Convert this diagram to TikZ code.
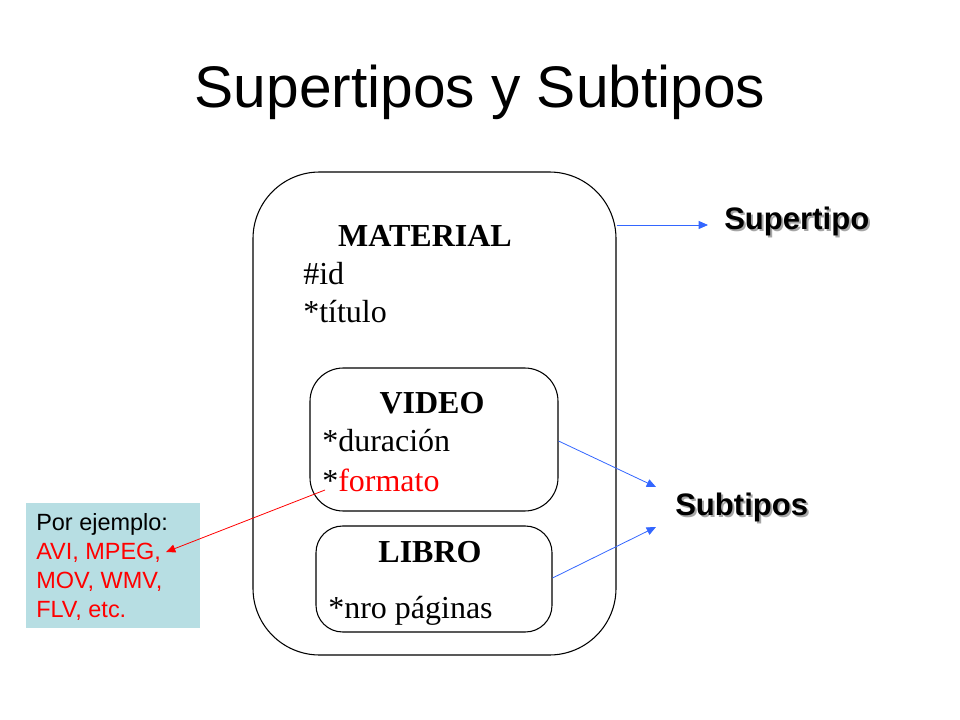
\documentclass[tikz,border=0pt]{standalone}
\usepackage{fontspec}
\setmainfont{Liberation Serif}
\newfontfamily\arialfont{Liberation Sans}
\usetikzlibrary{positioning, arrows.meta}
\definecolor{linkblue}{RGB}{51,102,255}
\definecolor{notecyan}{RGB}{183,222,227}
\tikzset{
    entitybox/.style = {draw, thick, rounded corners=#1},
    entitybox/.default = 25,
    attr/.style = {anchor=west, inner sep=0pt, font=\fontsize{24}{28}\selectfont},
    header/.style = {inner sep=0pt, font=\fontsize{24}{28}\selectfont\bfseries},
    tag/.style = {anchor=west, inner sep=0pt, font=\arialfont\fontsize{23.3}{27}\selectfont\bfseries},
    link/.style = {-{Triangle[length=7pt, width=6pt]}, linkblue, semithick}
}
\newcommand{\shadowed}[1]{\textcolor{black!35}{#1}}

\begin{document}
\begin{tikzpicture}[x=0.75pt, y=-0.75pt]
        \useasboundingbox (0,0) rectangle (960,720);

        % Title
        \node[font=\arialfont\fontsize{44}{50}\selectfont] (title) at (480,92) {Supertipos y Subtipos};

        % Supertype box
        \node[entitybox=50, minimum width=363*0.75pt, minimum height=483*0.75pt, inner sep=0pt] (material) at (434.5,413.5) {};
        \node[header] (materialname) at (425,236) {MATERIAL};
        \node[attr] (id) at (303,274) {\#id};
        \node[attr] (titulo) at (303,312) {*título};

        % Subtype boxes
        \node[entitybox=25, minimum width=248*0.75pt, minimum height=143*0.75pt, inner sep=0pt] (video) at (434,439.5) {};
        \node[header] (videoname) at (432,403) {VIDEO};
        \node[attr] (duracion) at (322,441) {*duración};
        \node[attr] (formato) at (322,480) {*\textcolor{red}{formato}};

        \node[entitybox=20, minimum width=236*0.75pt, minimum height=106*0.75pt, inner sep=0pt] (libro) at (434,579) {};
        \node[header] (libroname) at (430,552) {LIBRO};
        \node[attr] (paginas) at (328,611) {*nro páginas};

        % Note box
        \node[fill=notecyan, minimum width=174*0.75pt, minimum height=125*0.75pt, inner sep=0pt] (note) at (113,565.5) {};
        \node[anchor=west, align=left, inner sep=0pt, font=\arialfont\fontsize{17.6}{21.6}\selectfont] (notetext) at (36,567) {Por ejemplo:\\ \textcolor{red}{AVI, MPEG,}\\ \textcolor{red}{MOV, WMV,}\\ \textcolor{red}{FLV, etc.}};

        % Labels (with soft shadow)
        \node[tag] at (726,223) {\shadowed{Supertipo}};
        \node[tag] (super) at (724,221) {Supertipo};
        \node[tag] at (677,509) {\shadowed{Subtipos}};
        \node[tag] (sub) at (675,507) {Subtipos};

        % Connectors
        \coordinate (supertip) at (708,225);
        \coordinate (subtipA) at (656,487);
        \coordinate (subtipB) at (656,527);
        \coordinate (formatofoot) at (325,490);
        \coordinate (notetip) at (166,552);
        \draw[link] (material.east |- supertip) -- (supertip);
        \draw[link] (video.east |- duracion) -- (subtipA);
        \draw[link] (libro.east |- 0,578) -- (subtipB);
        \draw[-{Triangle[length=7pt, width=6pt]}, red, semithick] (formatofoot) -- (notetip);

    \end{tikzpicture}
\end{document}
